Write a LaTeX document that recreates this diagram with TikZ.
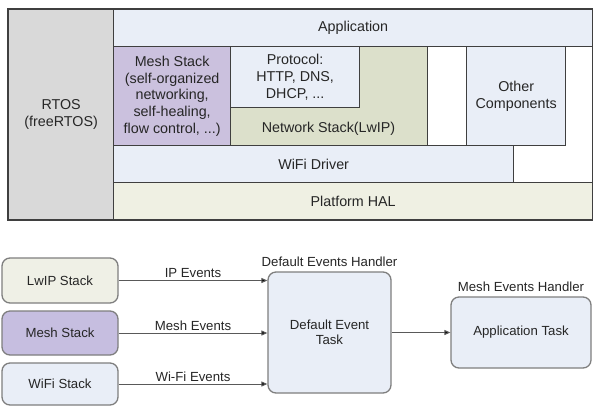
\documentclass[tikz,border=0pt]{standalone}
\usepackage{fontspec}
\setmainfont{Liberation Sans}
\usetikzlibrary{arrows.meta,positioning}
\definecolor{edge}{HTML}{3F3F3F}
\definecolor{rtosgray}{HTML}{D9D9D9}
\definecolor{lblue}{HTML}{E9EEF7}
\definecolor{lav}{HTML}{CBC1DE}
\definecolor{netgreen}{HTML}{DCE0CB}
\definecolor{halbeige}{HTML}{EFF0E3}
\definecolor{bborder}{HTML}{7F7F7F}
\definecolor{lwipfill}{HTML}{EFF0E6}
\definecolor{meshfill}{HTML}{C6BEE0}
\definecolor{txt}{HTML}{262626}
\tikzset{
  layer/.style={draw=edge, line width=1.3pt, inner sep=0pt, anchor=north west, align=center,
    font=\fontsize{14.3}{16.7}\selectfont, text=txt},
  rbox/.style={draw=bborder, line width=1.3pt, rounded corners=8pt, inner sep=0pt, align=center,
    font=\fontsize{13.2}{15.5}\selectfont, text=txt},
  evarrow/.style={draw=black!65, line width=1pt, -{Triangle[length=6pt,width=5pt,fill=black]}},
  evlabel/.style={font=\fontsize{13.2}{15.5}\selectfont, text=txt, inner sep=2pt},
}
\begin{document}
\begin{tikzpicture}[x=1pt,y=-1pt]
\useasboundingbox[fill=white] (0,0) rectangle (593,405);
% ---- top layered diagram ----
\node[layer, fill=white, minimum width=584pt, minimum height=210pt] (frame) at (8,9) {};
\node[layer, fill=rtosgray, minimum width=105pt, minimum height=210pt] (rtos) at (8,9) {RTOS\\(freeRTOS)};
\node[layer, fill=lblue, minimum width=479pt, minimum height=37pt] (app) at (113,9) {Application};
\node[layer, fill=lav, minimum width=117pt, minimum height=99pt] (mesh) at (113,46) {Mesh Stack\\(self-organized\\networking,\\self-healing,\\flow control, ...)};
\node[layer, fill=netgreen, minimum width=197pt, minimum height=99pt] (net) at (230,46) {};
\node[font=\fontsize{14.3}{16.7}\selectfont, text=txt, inner sep=0pt] (nettext) at (328.5,129) {Network Stack(LwIP)};
\node[layer, fill=lblue, minimum width=129pt, minimum height=61pt] (proto) at (230,46) {Protocol:\\HTTP, DNS,\\DHCP, ...};
\node[layer, fill=lblue, minimum width=99pt, minimum height=99pt] (other) at (466,46) {Other\\Components};
\node[layer, fill=lblue, minimum width=400pt, minimum height=37pt] (wifi) at (113,145) {WiFi Driver};
\node[layer, fill=halbeige, minimum width=479pt, minimum height=37pt] (hal) at (113,182) {Platform HAL};
\draw[edge, line width=1.3pt] (frame.north west) rectangle (frame.south east);
% ---- bottom event diagram ----
\node[rbox, fill=lwipfill, minimum width=116pt, minimum height=45pt] (lwip) at (60,280.5) {LwIP Stack};
\node[rbox, fill=meshfill, minimum width=116pt, minimum height=44pt] (meshs) at (60,333) {Mesh Stack};
\node[rbox, fill=lblue, minimum width=116pt, minimum height=42pt] (wifis) at (60,384) {WiFi Stack};
\node[rbox, fill=lblue, minimum width=123pt, minimum height=121pt] (dtask) at (329.5,332.5) {Default Event\\Task};
\node[rbox, fill=lblue, minimum width=140pt, minimum height=71pt] (atask) at (521,332.5) {Application Task};
\node[evlabel, above=3pt of dtask.north] (dlabel) {Default Events Handler};
\node[evlabel, above=3pt of atask.north] (alabel) {Mesh Events Handler};
\draw[evarrow] (lwip.east) -- node[evlabel, above, pos=0.5] (l1) {IP Events} (lwip.east -| dtask.west);
\draw[evarrow] (meshs.east) -- node[evlabel, above, pos=0.5] (l2) {Mesh Events} (meshs.east -| dtask.west);
\draw[evarrow] (wifis.east) -- node[evlabel, above, pos=0.5] (l3) {Wi-Fi Events} (wifis.east -| dtask.west);
\draw[evarrow] (dtask.east) -- (atask.west);
\end{tikzpicture}
\end{document}
